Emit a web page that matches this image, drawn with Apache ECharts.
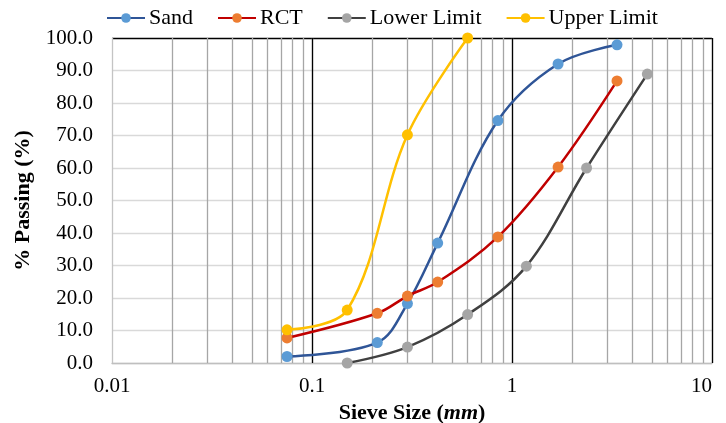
<!DOCTYPE html>
<html>
<head>
<meta charset="utf-8">
<script src="https://cdn.jsdelivr.net/npm/echarts@6/dist/echarts.min.js"></script>
<style>
html,body{margin:0;padding:0;background:#fff;}
#chart{width:726px;height:423px;}
</style>
</head>
<body>
<div id="chart"></div>
<script>
// ---- data ----
const sandSize = [0.075, 0.212, 0.3, 0.425, 0.85, 1.7, 3.35];
const sandPass = [2.0, 6.3, 18.3, 36.9, 74.6, 92.0, 97.9];
const rctSize = [0.075, 0.212, 0.3, 0.425, 0.85, 1.7, 3.35];
const rctPass = [7.7, 15.3, 20.6, 24.9, 38.8, 60.3, 86.8];
const lowerSize = [0.15, 0.3, 0.6, 1.18, 2.36, 4.75];
const lowerPass = [0.0, 4.9, 14.9, 29.8, 60.0, 88.9];
const upperSize = [0.075, 0.15, 0.3, 0.6];
const upperPass = [10.2, 16.3, 70.2, 100.0];
const minorGridValues = [0.02,0.03,0.04,0.05,0.06,0.07,0.08,0.09,
  0.2,0.3,0.4,0.5,0.6,0.7,0.8,0.9,
  2,3,4,5,6,7,8,9];
const majorGridValues = [0.1, 1, 10];

const FONT = '"Liberation Serif","Times New Roman",serif';
const pairs = (xs, ys) => xs.map((x, i) => [x, ys[i]]);

function mkSeries(name, xs, ys, lineColor, markerColor, extra) {
  return Object.assign({
    name: name,
    type: 'line',
    data: pairs(xs, ys),
    smooth: 0.35,
    symbol: 'circle',
    symbolSize: 11,
    lineStyle: { color: lineColor, width: 2.5 },
    itemStyle: { color: markerColor, borderWidth: 0 },
    z: 5
  }, extra || {});
}

const chart = echarts.init(document.getElementById('chart'), null, { renderer: 'canvas' });
chart.setOption({
  animation: false,
  backgroundColor: '#fff',
  textStyle: { fontFamily: FONT },
  legend: {
    top: 2,
    left: 101,
    itemWidth: 38,
    itemHeight: 12,
    itemGap: 24,
    textStyle: { fontFamily: FONT, fontSize: 22, color: '#000', padding: [0, 0, 0, -1] },
    data: ['Sand', 'RCT', 'Lower Limit', 'Upper Limit']
  },
  grid: { left: 112, right: 14, top: 38, bottom: 60, containLabel: false, outerBoundsMode: 'none' },
  xAxis: {
    type: 'log',
    logBase: 10,
    min: 0.01,
    max: 10,
    name: '{b|Sieve Size (}{i|mm}{b|)}',
    nameLocation: 'middle',
    nameGap: 35,
    nameTextStyle: {
      rich: {
        b: { fontFamily: FONT, fontSize: 22, fontWeight: 'bold', color: '#000' },
        i: { fontFamily: FONT, fontSize: 22, fontWeight: 'bold', fontStyle: 'italic', color: '#000' }
      }
    },
    axisLine: { show: true, lineStyle: { color: '#BFBFBF', width: 1.3 } },
    axisTick: { show: false },
    axisLabel: {
      fontFamily: FONT, fontSize: 21, color: '#000', margin: 13,
      alignMaxLabel: 'right',
      formatter: v => String(+(+v).toPrecision(3))
    },
    splitLine: { show: true, lineStyle: { color: '#C4C4C4', width: 1.3 } },
    minorSplitLine: { show: false }
  },
  yAxis: {
    type: 'value',
    min: 0,
    max: 100,
    interval: 10,
    name: '% Passing (%)',
    nameLocation: 'middle',
    nameGap: 78,
    nameTextStyle: { fontFamily: FONT, fontSize: 22, fontWeight: 'bold', color: '#000' },
    axisLine: { show: false },
    axisTick: { show: false },
    axisLabel: {
      fontFamily: FONT, fontSize: 21, color: '#000', margin: 19,
      formatter: v => v.toFixed(1)
    },
    splitLine: {
      show: true,
      lineStyle: {
        color: ['#D9D9D9','#D9D9D9','#D9D9D9','#D9D9D9','#D9D9D9','#D9D9D9','#D9D9D9','#D9D9D9','#D9D9D9','#D9D9D9','#000'],
        width: 1.3
      }
    }
  },
  series: [
    mkSeries('Sand', sandSize, sandPass, '#2F5597', '#5B9BD5', {
      markLine: {
        silent: true,
        symbol: 'none',
        label: { show: false },
        animation: false,
        z: 1,
        data: minorGridValues.map(v => ({ xAxis: v, lineStyle: { color: '#A6A6A6', type: 'solid', width: 1.3 } }))
          .concat(majorGridValues.map(v => ({ xAxis: v, lineStyle: { color: '#000', type: 'solid', width: 1.3 } })))
      }
    }),
    mkSeries('RCT', rctSize, rctPass, '#C00000', '#ED7D31'),
    mkSeries('Lower Limit', lowerSize, lowerPass, '#404040', '#A5A5A5'),
    mkSeries('Upper Limit', upperSize, upperPass, '#FFC000', '#FFC000')
  ]
});
</script>
</body>
</html>
